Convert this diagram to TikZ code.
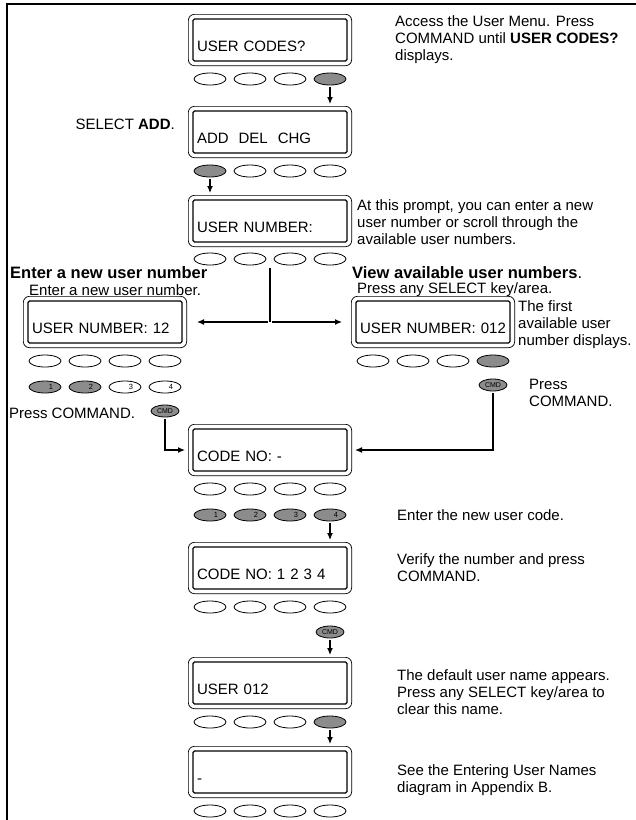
\documentclass[tikz,border=0pt]{standalone}
\usepackage{fontspec}
\setmainfont{Liberation Sans}
\usetikzlibrary{arrows.meta,shapes.geometric,positioning,fit}

\definecolor{keygray}{gray}{0.55}

% one row of four select keys, #4 = lit key (0 = none)
\newcommand{\keyrow}[4]{%
  \foreach \i/\dx in {1/-60,2/-20,3/20,4/60}{%
    \ifnum\i=#4\relax\def\kf{keygray}\else\def\kf{white}\fi
    \node[key,fill=\kf] (#1\i) at ({#2+\dx},#3) {};}}
% one row of digit keys, lit up to #4
\newcommand{\digitrow}[4]{%
  \foreach \i/\dx in {1/-60,2/-20,3/20,4/60}{%
    \ifnum\i>#4\relax\def\kf{white}\else\def\kf{keygray}\fi
    \node[key,digit,fill=\kf] (#1\i) at ({#2+\dx},#3) {\hspace*{12pt}\i};}}

\begin{document}
\begin{tikzpicture}[x=1pt,y=-1pt,font=\fontsize{15}{17}\selectfont,
    lcd/.style={draw, line width=1.3pt, rounded corners=1.5pt, minimum width=154pt,
      minimum height=42pt, text width=146pt, inner xsep=4pt, inner ysep=4pt,
      align=left, text height=28pt, text depth=6pt},
    bezel/.style={draw, line width=0.7pt, rounded corners=6pt, inner sep=4pt},
    key/.style={ellipse, draw, line width=0.8pt, minimum width=32pt,
      minimum height=12pt, inner sep=0pt},
    digit/.style={font=\fontsize{7.5}{8}\selectfont},
    cmd/.style={key, fill=keygray, minimum width=28pt, minimum height=12pt,
      font=\fontsize{7}{7}\selectfont},
    note/.style={anchor=north west, align=left, inner sep=0pt},
    line/.style={anchor=west, inner sep=0pt},
    head/.style={anchor=west, inner sep=0pt, font=\fontsize{16.5}{19}\selectfont\bfseries},
    flow/.style={line width=1.2pt, -{Latex[length=7pt,width=6pt]},
      shorten >=2pt, shorten <=2pt},
    wire/.style={line width=1.2pt}]
  \useasboundingbox (0,0) rectangle (636,820);
  \draw[line width=1.5pt] (636,4) -- (7,4) -- (7,820);

  % displays
  \node[lcd] (codes) at (270,40) {USER CODES?};
  \node[lcd] (menu) at (270,132) {ADD~ DEL~ CHG};
  \node[lcd] (unum) at (270,221) {USER NUMBER:};
  \node[lcd] (unew) at (105,322) {USER NUMBER: 12};
  \node[lcd] (uavail) at (433,322) {USER NUMBER: 012};
  \node[lcd] (code) at (270,450) {CODE NO: -};
  \node[lcd] (codeset) at (270,568) {CODE NO: 1 2 3 4};
  \node[lcd] (uname) at (270,683) {USER 012};
  \node[lcd] (blank) at (270,772) {-};
  \foreach \b in {codes,menu,unum,unew,uavail,code,codeset,uname,blank}
    \node[bezel, fit=(\b)] (\b-rim) {};

  % keys
  \keyrow{ck}{270}{79}{4}
  \keyrow{mk}{270}{171}{1}
  \keyrow{nk}{270}{259}{0}
  \keyrow{ek}{105}{361}{0}
  \digitrow{ed}{105}{387}{2}
  \keyrow{vk}{433}{361}{4}
  \keyrow{dk}{270}{489}{0}
  \digitrow{dd}{270}{515}{4}
  \keyrow{sk}{270}{607}{0}
  \keyrow{uk}{270}{722}{4}
  \keyrow{bk}{270}{811}{0}
  \node[cmd] (lcmd) at (165,411) {CMD};
  \node[cmd] (rcmd) at (493,385) {CMD};
  \node[cmd] (scmd) at (330,632) {CMD};

  % texts
  \node[note] (access) at (395,15) {Access the User Menu. Press\\COMMAND until \textbf{USER CODES?}\\displays.};
  \node[anchor=east, inner sep=0pt] (seladd) at (175,124) {SELECT \textbf{ADD}.};
  \node[note] (prompt) at (357,199) {At this prompt, you can enter a new\\user number or scroll through the\\available user numbers.};
  \node[head] (newhead) at (10,273) {Enter a new user number};
  \node[line] (newtxt) at (29,290) {Enter a new user number.};
  \node[head] (availhead) at (352,273) {View available user numbers\textmd{.}};
  \node[line] (availtxt) at (357,290) {Press any SELECT key/area.};
  \node[note] (first) at (518,300) {The first\\available user\\number displays.};
  \node[note] (rpress) at (529,379) {Press\\COMMAND.};
  \node[line] (lpress) at (9,413) {Press COMMAND.};
  \node[line] (enter) at (397,515) {Enter the new user code.};
  \node[note] (verify) at (397,553) {Verify the number and press\\COMMAND.};
  \node[note] (default) at (397,669) {The default user name appears.\\Press any SELECT key/area to\\clear this name.};
  \node[note] (seeb) at (397,764) {See the Entering User Names\\diagram in Appendix B.};

  % connectors
  \coordinate (fork) at (270,322);
  \draw[flow] (ck4) -- (ck4 |- menu-rim.north);
  \draw[flow] (mk1) -- (mk1 |- unum-rim.north);
  \draw[wire, shorten <=3pt] (unum-rim.south |- nk2.south) -- (fork);
  \draw[flow, shorten >=10pt] (fork) -- (fork -| unew-rim.east);
  \draw[flow, shorten >=9pt] (fork) -- (fork -| uavail-rim.west);
  \draw[flow, shorten >=3pt] (lcmd) |- (code-rim.west);
  \draw[flow, shorten >=3pt] (rcmd) |- (code-rim.east);
  \draw[flow] (dd4) -- (dd4 |- codeset-rim.north);
  \draw[flow] (scmd) -- (scmd |- uname-rim.north);
  \draw[flow] (uk4) -- (uk4 |- blank-rim.north);
\end{tikzpicture}
\end{document}
